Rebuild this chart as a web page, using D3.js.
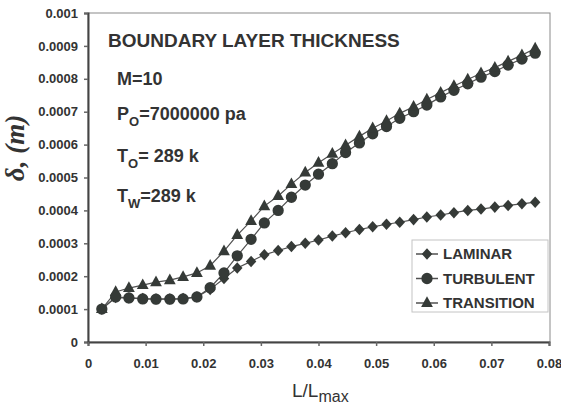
<!DOCTYPE html>
<html>
<head>
<meta charset="utf-8">
<script src="https://cdn.jsdelivr.net/npm/d3@7/dist/d3.min.js"></script>
<style>
  html, body { margin: 0; padding: 0; background: #fff; }
  svg { display: block; }
  text { font-family: "Liberation Sans", Arial, sans-serif; fill: #333; }
</style>
</head>
<body>
<svg id="chart" width="561" height="407"></svg>
<script>
// Station positions along the plate (L / Lmax)
const xPos = [0.0024, 0.0048, 0.0071, 0.0095, 0.0118, 0.0142, 0.0165, 0.0189, 0.0212,
              0.0236, 0.0259, 0.0283, 0.0306, 0.0330, 0.0353, 0.0377, 0.0400, 0.0424,
              0.0447, 0.0471, 0.0494, 0.0518, 0.0541, 0.0565, 0.0588, 0.0612, 0.0635,
              0.0659, 0.0682, 0.0706, 0.0729, 0.0753, 0.0776];

// Boundary layer thickness (m)
const laminar = [0.000100, 0.000135, 0.000134, 0.000132, 0.000131, 0.000131, 0.000132, 0.000137, 0.000160,
                 0.000193, 0.000225, 0.000245, 0.000265, 0.000278, 0.000290, 0.000300, 0.000310, 0.000322,
                 0.000332, 0.000342, 0.000350, 0.000358, 0.000364, 0.000372, 0.000380, 0.000386, 0.000393,
                 0.000400, 0.000404, 0.000410, 0.000415, 0.000420, 0.000425];
const turbulent = [0.000100, 0.000137, 0.000134, 0.000131, 0.000130, 0.000130, 0.000131, 0.000137, 0.000165,
                   0.000210, 0.000262, 0.000312, 0.000362, 0.000400, 0.000440, 0.000477, 0.000510, 0.000542,
                   0.000576, 0.000605, 0.000633, 0.000655, 0.000680, 0.000700, 0.000720, 0.000745, 0.000765,
                   0.000785, 0.000805, 0.000822, 0.000842, 0.000860, 0.000878];
const transition = [0.000100, 0.000152, 0.000164, 0.000173, 0.000182, 0.000188, 0.000198, 0.000210, 0.000232,
                    0.000276, 0.000325, 0.000368, 0.000413, 0.000444, 0.000480, 0.000515, 0.000545, 0.000572,
                    0.000598, 0.000625, 0.000650, 0.000672, 0.000695, 0.000715, 0.000737, 0.000758, 0.000778,
                    0.000798, 0.000817, 0.000834, 0.000853, 0.000872, 0.000892];

const seriesNames = ["LAMINAR", "TURBULENT", "TRANSITION"];
const xTicks = [0, 0.01, 0.02, 0.03, 0.04, 0.05, 0.06, 0.07, 0.08];
const xTickLabels = ["0", "0.01", "0.02", "0.03", "0.04", "0.05", "0.06", "0.07", "0.08"];
const yTicks = [0, 0.0001, 0.0002, 0.0003, 0.0004, 0.0005, 0.0006, 0.0007, 0.0008, 0.0009, 0.001];
const yTickLabels = ["0", "0.0001", "0.0002", "0.0003", "0.0004", "0.0005", "0.0006", "0.0007", "0.0008", "0.0009", "0.001"];

const svg = d3.select("#chart");
const plot = { left: 88, right: 549, top: 13, bottom: 342 };

const x = d3.scaleLinear().domain([0, 0.08]).range([plot.left, plot.right]);
const y = d3.scaleLinear().domain([0, 0.001]).range([plot.bottom, plot.top]);

const ink = "#353a37";
const lineInk = "#505050";

// Marker shapes
const diamond = {
  draw(ctx, size) {
    const r = Math.sqrt(size) / 2;
    ctx.moveTo(0, -r * 1.1); ctx.lineTo(r, 0); ctx.lineTo(0, r * 1.1); ctx.lineTo(-r, 0); ctx.closePath();
  }
};
const triangle = {
  draw(ctx, size) {
    const r = Math.sqrt(size) / 2;
    ctx.moveTo(0, -r * 1.25); ctx.lineTo(r * 1.1, r * 0.75); ctx.lineTo(-r * 1.1, r * 0.75); ctx.closePath();
  }
};
const shapes = [
  d3.symbol().type(diamond).size(110),
  d3.symbol().type(d3.symbolCircle).size(100),
  d3.symbol().type(triangle).size(115)
];

// Plot frame
svg.append("rect")
  .attr("x", plot.left).attr("y", plot.top)
  .attr("width", plot.right + 1 - plot.left).attr("height", plot.bottom - plot.top)
  .attr("fill", "none").attr("stroke", "#8a8a8a").attr("stroke-width", 1);

// Axes
const yAxis = d3.axisLeft(y).tickValues(yTicks)
  .tickFormat((d, i) => yTickLabels[i]).tickSize(4).tickPadding(6);
const gy = svg.append("g").attr("transform", `translate(${plot.left},0)`).call(yAxis);

const xAxis = d3.axisBottom(x).tickValues(xTicks)
  .tickFormat((d, i) => xTickLabels[i]).tickSize(4).tickPadding(13);
const gx = svg.append("g").attr("transform", `translate(0,${plot.bottom})`).call(xAxis);

[gx, gy].forEach(g => {
  g.select(".domain").attr("stroke", "#444").attr("stroke-width", 2);
  g.selectAll(".tick line").attr("stroke", "#666").attr("stroke-width", 1.5);
  g.selectAll(".tick text")
    .attr("fill", "#3a3a3a")
    .style("font-family", "'Liberation Sans', Arial, sans-serif")
    .style("font-size", "13px").style("font-weight", "bold");
});

// Series
const allSeries = [laminar, turbulent, transition];
const line = d3.line().x((d, i) => x(xPos[i])).y(d => y(d));

allSeries.forEach((vals, s) => {
  svg.append("path").datum(vals)
    .attr("d", line).attr("fill", "none")
    .attr("stroke", lineInk).attr("stroke-width", 1.2);
});
allSeries.forEach((vals, s) => {
  svg.append("g").selectAll("path").data(vals).join("path")
    .attr("transform", (d, i) => `translate(${x(xPos[i])},${y(d)})`)
    .attr("d", shapes[s]())
    .attr("fill", ink);
});

// Annotations
const notes = svg.append("g").style("font-weight", "bold").attr("fill", "#333");
notes.append("text").attr("x", 108).attr("y", 47)
  .style("font-size", "19px").text("BOUNDARY LAYER THICKNESS");
notes.append("text").attr("x", 117).attr("y", 85).style("font-size", "18px").text("M=10");

function subText(xp, yp, main, sub, rest) {
  const t = notes.append("text").attr("x", xp).attr("y", yp).style("font-size", "18px");
  t.append("tspan").text(main);
  t.append("tspan").attr("dy", 6).style("font-size", "13px").text(sub);
  t.append("tspan").attr("dy", -6).text(rest);
}
subText(117, 120, "P", "O", "=7000000 pa");
subText(117, 162, "T", "O", "= 289 k");
subText(117, 202, "T", "W", "=289 k");

// Axis titles
svg.append("text")
  .attr("transform", "translate(24,148) rotate(-90)")
  .attr("text-anchor", "middle")
  .style("font-family", "'Liberation Serif', 'Times New Roman', serif")
  .style("font-style", "italic").style("font-weight", "bold").style("font-size", "27px")
  .text("δ, (m)");

const xt = svg.append("text").attr("x", 292).attr("y", 397).style("font-size", "19px");
xt.append("tspan").text("L/L");
xt.append("tspan").attr("dy", 5).style("font-size", "16px").text("max");

// Legend
const lg = svg.append("g");
lg.append("rect").attr("x", 412).attr("y", 240).attr("width", 136).attr("height", 72)
  .attr("fill", "#fff").attr("stroke", "#c4c4c4").attr("stroke-width", 1);
seriesNames.forEach((name, s) => {
  const cy = 254 + s * 24.5;
  lg.append("line").attr("x1", 416).attr("x2", 438).attr("y1", cy).attr("y2", cy)
    .attr("stroke", lineInk).attr("stroke-width", 1.5);
  lg.append("path").attr("transform", `translate(427,${cy})`).attr("d", shapes[s]()).attr("fill", ink);
  lg.append("text").attr("x", 443).attr("y", cy).attr("dy", "0.36em")
    .style("font-size", "15px").style("font-weight", "bold").text(name);
});
</script>
</body>
</html>
